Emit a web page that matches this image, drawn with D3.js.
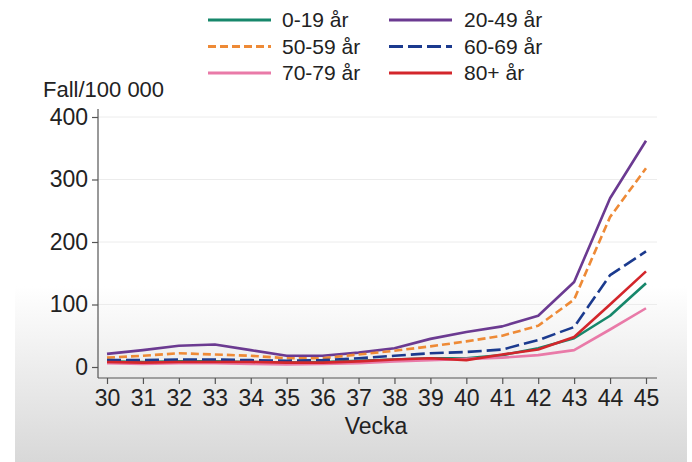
<!DOCTYPE html>
<html>
<head>
<meta charset="utf-8">
<script src="https://cdn.jsdelivr.net/npm/d3@7"></script>
<style>
  body { margin: 0; background: #fff; }
  svg { display: block; font-family: "Liberation Sans", Arial, sans-serif; }
</style>
</head>
<body>
<svg id="chart" width="692" height="462"></svg>
<script>
// weeks on the x axis
const weeks = d3.range(30, 46);
const yTicks = [0, 100, 200, 300, 400];

// cases per 100 000, by age group
const age0_19  = [9, 8, 9, 9, 8, 7, 8, 10, 12, 14, 14, 19, 30, 46, 82, 134];
const age20_49 = [21, 27, 34, 36, 27, 18, 18, 23, 30, 45, 56, 65, 82, 136, 270, 362];
const age50_59 = [15, 18, 22, 20, 18, 14, 14, 20, 26, 33, 41, 50, 66, 108, 240, 318];
const age60_69 = [11, 11, 12, 12, 11, 10, 11, 14, 18, 22, 24, 28, 43, 64, 147, 185];
const age70_79 = [6, 5, 6, 6, 5, 4, 5, 6, 9, 11, 13, 15, 19, 27, 60, 94];
const age80    = [8, 7, 8, 8, 8, 7, 7, 9, 12, 14, 11, 20, 28, 48, 100, 153];

const seriesNames = ["0-19 år", "20-49 år", "50-59 år", "60-69 år", "70-79 år", "80+ år"];
const seriesVals = [age0_19, age20_49, age50_59, age60_69, age70_79, age80];
const colors = ["#17876b", "#6b3a91", "#ee8a36", "#1b3a8e", "#e97aa8", "#d3262b"];
const dashes = [null, null, "8 4", "14 5", null, null];

const svg = d3.select("#chart");

// faint grey panel gradient at the bottom (video frame)
const defs = svg.append("defs");
const grad = defs.append("linearGradient")
  .attr("id", "bg").attr("x1", 0).attr("y1", 0).attr("x2", 0).attr("y2", 1);
grad.append("stop").attr("offset", 0.62).attr("stop-color", "#ffffff");
grad.append("stop").attr("offset", 1).attr("stop-color", "#d8d8d8");
svg.append("rect").attr("x", 15).attr("y", 0).attr("width", 672).attr("height", 462)
  .attr("fill", "url(#bg)");

const x = d3.scaleLinear().domain([30, 45]).range([107, 646]);
const y = d3.scaleLinear().domain([0, 400]).range([367, 117]);
const plotLeft = 98, plotRight = 657, plotBottom = 378, plotTop = 109;

// grid
svg.append("g")
  .selectAll("line")
  .data(yTicks)
  .join("line")
  .attr("x1", plotLeft).attr("x2", plotRight)
  .attr("y1", d => y(d)).attr("y2", d => y(d))
  .attr("stroke", "#ececec").attr("stroke-width", 1);

// Y axis
const yAxis = svg.append("g")
  .attr("transform", `translate(${plotLeft},0)`)
  .call(d3.axisLeft(y).tickValues(yTicks).tickSize(6).tickPadding(4).tickSizeOuter(0));
yAxis.select(".domain").attr("d", `M0,${plotTop}V${plotBottom}`);

// X axis
const xAxis = svg.append("g")
  .attr("transform", `translate(0,${plotBottom})`)
  .call(d3.axisBottom(x).tickValues(weeks).tickFormat(d3.format("d")).tickSize(6).tickPadding(6).tickSizeOuter(0));
xAxis.select(".domain").attr("d", `M${plotLeft},0H${plotRight}`);

svg.selectAll(".tick text").attr("font-size", 23).attr("fill", "#222")
  .attr("font-family", "Liberation Sans, Arial, sans-serif");
svg.selectAll(".domain, .tick line").attr("stroke", "#555").attr("stroke-width", 1.2);

svg.append("text").attr("x", 43).attr("y", 97)
  .attr("font-size", 22).attr("fill", "#222").text("Fall/100 000");
svg.append("text").attr("x", 376).attr("y", 434).attr("text-anchor", "middle")
  .attr("font-size", 23).attr("fill", "#222").text("Vecka");

// lines
const line = d3.line()
  .x((d, i) => x(weeks[i]))
  .y(d => y(d));

svg.append("g")
  .selectAll("path")
  .data(seriesVals)
  .join("path")
  .attr("d", line)
  .attr("fill", "none")
  .attr("stroke", (d, i) => colors[i])
  .attr("stroke-width", 2.6)
  .attr("stroke-linejoin", "round")
  .attr("stroke-dasharray", (d, i) => dashes[i]);

// legend, two columns
const legend = svg.append("g");
const items = legend.selectAll("g")
  .data(seriesNames)
  .join("g")
  .attr("transform", (d, i) => `translate(${i % 2 ? 389 : 208},${20 + Math.floor(i / 2) * 26.5})`);
items.append("line")
  .attr("x1", 0).attr("x2", 63)
  .attr("stroke", (d, i) => colors[i])
  .attr("stroke-width", 3.2)
  .attr("stroke-dasharray", (d, i) => dashes[i]);
items.append("text")
  .attr("x", (d, i) => i % 2 ? 75 : 74)
  .attr("dy", "0.35em")
  .attr("font-size", 21)
  .attr("fill", "#222")
  .text(d => d);
</script>
</body>
</html>
